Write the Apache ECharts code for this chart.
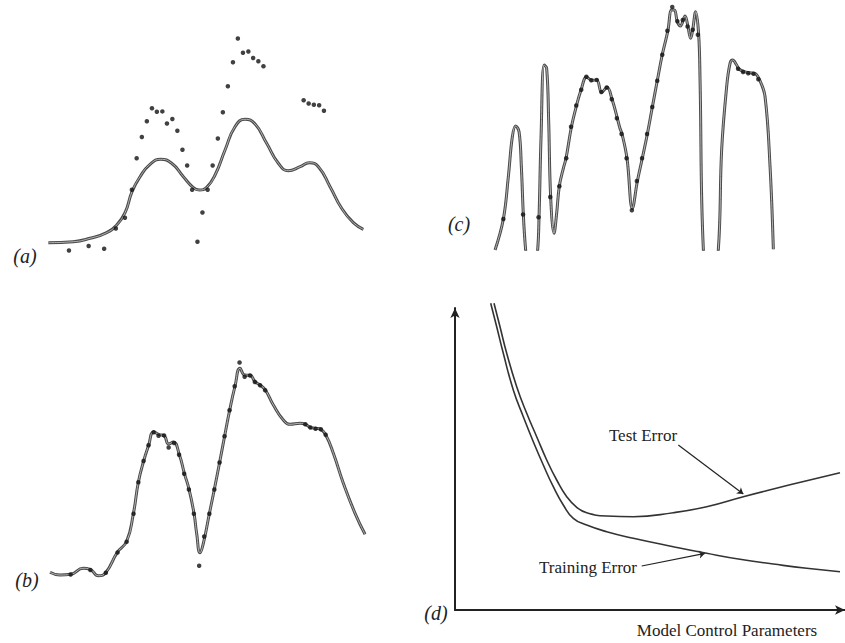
<!DOCTYPE html>
<html>
<head>
<meta charset="utf-8">
<script src="https://cdn.jsdelivr.net/npm/echarts@6/dist/echarts.min.js"></script>
<style>
html,body{margin:0;padding:0;background:#fff;}
#chart{width:845px;height:643px;}
</style>
</head>
<body>
<div id="chart"></div>
<script>
// Shared training data (same points in panels a, b, c)
const dotsX = [29.8,49.5,65,76.7,85.8,92.7,97.5,102.7,107.7,112.8,117.7,123.2,127.8,133.2,138.2,143.3,148,153,158.3,163.3,168.5,173.5,178.7,183.7,188.7,193.8,198.7,203.8,209.2,214,219.2,224.3,264.5,269.5,274.7,280,284.8];
const dotsY = [9.5,14,11.3,31.5,42.3,70.2,101.7,123,138.8,151.8,148.2,148.6,136.5,141,129.3,110.3,94.5,70.2,18.3,47.5,70.2,94.5,121.5,147.8,173.7,197.8,221.5,207.2,208.5,202,198.7,193.7,159.7,156.5,155.3,154.7,149.2];

// (a) under-fitting curve
const curveAX = [9.2,34.2,50.9,67.5,77.5,85.9,92.9,100.9,110.9,121.5,132.5,144.2,154.2,160.2,167.5,175.9,185.9,195.9,205.9,215.9,227.5,239.2,249.2,260.9,270.2,279.2,290.9,302.5,314.2,324.2];
const curveAY = [17.3,18.3,21.7,27.3,35,47.3,68.3,83.3,95.7,100.7,96.7,83.3,72.3,70,72.7,85,110,133.3,140.7,136,116.7,96.7,89.3,93.3,97.3,93.3,73.3,51.7,37.3,30.7];

// (b) good fit curve
const curveBX = [9.2,19.2,29.8,42.5,49.2,57.5,64.8,76.5,85.8,92.5,97.5,102.8,107.8,112.8,118.5,123.2,127.8,132.5,138.5,143.5,148.2,153.2,155.8,159.2,162.5,168.5,173.5,178.8,183.8,188.8,194.2,199.2,203.8,209.2,214.2,219.2,224.5,232.5,242.5,249.2,259.2,264.5,269.5,274.5,279.8,284.8,292.5,302.5,314.2,324.2];
const curveBY = [11.7,9,9.7,15.7,14.7,8.3,11.3,31.7,42.7,70.3,101.7,123,138.7,152,149.3,148.3,140,142,129.3,110.7,94.7,70.3,50.7,31.3,40.7,70.3,94.7,121.7,148,173.7,198,215.7,209,208.7,202.3,199,194,179,164,159.7,160.7,159.7,156.7,155.7,154.7,149.3,130.7,100.7,70.7,49.7];

// (c) over-fitting curve
const curveCX = [21.5,29.8,34.8,38.8,42.1,45.5,47.8,49.8,52.1,58,64.1,65.5,67.5,70.5,73.1,75.1,77.1,80.5,83.1,85.8,89.8,92.5,97.8,103.1,107.5,113.1,118.1,123.1,128.1,133.5,138.5,143.8,146.4,148.5,153.5,158.8,163.8,168.8,173.8,178.8,183.8,188.8,194.3,198.1,200.8,203.8,206.8,211.5,214.1,217.1,219.1,222.1,225.1,226.5,229.8,237,244.8,248.1,253.1,256.5,259.1,263.1,265.5,270.8,275.8,281.1,285.8,291.5,296.5,299.8];
const curveCY = [-21.5,9.5,51.8,91.8,102.5,96.8,61.8,13.5,-21.5,-80,-21.5,11.8,91.8,163.5,160.2,108.5,31.8,-4.8,15.2,42.5,60.2,70.2,101.2,123.5,138.5,151.5,148.2,148.5,136.2,141.2,129.2,110.2,100.2,94.5,69.8,20,47.2,70.5,94.5,121.5,148.2,174.2,197.6,218.5,218.5,206.8,202.5,212.5,203.5,190.2,198.5,216.8,194.2,148.5,-20.8,-80,-20.8,78.5,141.8,165.2,168.5,163.5,159.5,156.8,155.8,155.2,149.2,131.8,61.8,-20.8];

// (d) error curves
const testX = [39,45,51.7,61.7,71.7,81.7,91.7,101.7,111.7,121.7,131.7,151.7,178.3,218.3,251.7,288.3,318.3,351.7,385];
const testY = [306.7,283.3,256.7,223.3,196.7,173.3,150,130,113.3,102.7,97.3,94,93.3,97.3,103.3,113.3,121,129.3,137.3];
const trainX = [35.7,41.7,48.3,58.3,68.3,78.3,88.3,98.3,108.3,118.3,131.7,151.7,178.3,218.3,251.7,285,318.3,351.7,385];
const trainY = [306.7,283.3,256.7,220,193.3,168.3,145,123.3,105,91.7,85,78.3,71.7,63.3,56.7,50.7,46,41.7,38.3];

// annotation arrows (d panel data coordinates)
const testArrow = [[223.3,165],[288.3,116]];
const trainArrow = [[186.7,44],[250,56.7]];

const labels = ['(a)','(b)','(c)','(d)'];
const annotations = ['Test Error','Training Error','Model Control Parameters'];

function zip(xs, ys){ return xs.map((x,i)=>[x, ys[i]]); }

const chart = echarts.init(document.getElementById('chart'), null, {renderer:'svg'});

const outer = {color:'#4a4a4a', width:3};
const inner = {color:'#b4b4b4', width:1};
const dotStyle = {color:'#111'};

function curve(idx, xs, ys, smooth, clip){
  const base = {type:'line', xAxisIndex:idx, yAxisIndex:idx, data:zip(xs,ys), smooth:smooth, showSymbol:false, clip:clip, silent:true};
  return [Object.assign({}, base, {lineStyle:outer}), Object.assign({}, base, {lineStyle:inner})];
}
function dots(idx){
  return {type:'scatter', xAxisIndex:idx, yAxisIndex:idx, data:zip(dotsX,dotsY), symbolSize:4.5, itemStyle:dotStyle, z:5};
}

const option = {
  animation:false,
  backgroundColor:'#fff',
  grid:[
    {left:39.15, top:20, width:330, height:240},
    {left:40.85, top:344, width:330, height:240},
    {left:473.55, top:0, width:330, height:249.3},
    {left:455, top:308, width:390, height:302}
  ],
  xAxis:[
    {gridIndex:0, type:'value', min:0, max:330, show:false},
    {gridIndex:1, type:'value', min:0, max:330, show:false},
    {gridIndex:2, type:'value', min:0, max:330, show:false},
    {gridIndex:3, type:'value', min:0, max:390, splitLine:{show:false}, axisTick:{show:false}, axisLabel:{show:false},
      axisLine:{show:true, onZero:false, symbol:['none','arrow'], symbolSize:[7,10], lineStyle:{color:'#222', width:2}}}
  ],
  yAxis:[
    {gridIndex:0, type:'value', min:0, max:240, show:false},
    {gridIndex:1, type:'value', min:0, max:240, show:false},
    {gridIndex:2, type:'value', min:-20.8, max:228.5, show:false},
    {gridIndex:3, type:'value', min:0, max:302, splitLine:{show:false}, axisTick:{show:false}, axisLabel:{show:false},
      axisLine:{show:true, onZero:false, symbol:['none','arrow'], symbolSize:[7,10], lineStyle:{color:'#222', width:2}}}
  ],
  series:[].concat(
    curve(0, curveAX, curveAY, 0.5, true), [dots(0)],
    curve(1, curveBX, curveBY, 0.5, true), [dots(1)],
    curve(2, curveCX, curveCY, 0.4, true), [dots(2)],
    [
      {type:'line', xAxisIndex:3, yAxisIndex:3, data:zip(testX,testY), smooth:0.5, showSymbol:false, clip:false, lineStyle:{color:'#333', width:1.6}},
      {type:'line', xAxisIndex:3, yAxisIndex:3, data:zip(trainX,trainY), smooth:0.5, showSymbol:false, clip:false, lineStyle:{color:'#333', width:1.6}},
      {type:'lines', coordinateSystem:'cartesian2d', xAxisIndex:3, yAxisIndex:3, symbol:['none','arrow'], symbolSize:6,
        lineStyle:{color:'#222', width:1.2, opacity:1},
        data:[{coords:testArrow},{coords:trainArrow}]}
    ]
  ),
  graphic:[
    {type:'text', x:25, y:256, style:{text:labels[0], font:'italic 20px "Liberation Serif"', fill:'#222', align:'center', verticalAlign:'middle'}},
    {type:'text', x:27, y:580, style:{text:labels[1], font:'italic 20px "Liberation Serif"', fill:'#222', align:'center', verticalAlign:'middle'}},
    {type:'text', x:459, y:224, style:{text:labels[2], font:'italic 20px "Liberation Serif"', fill:'#222', align:'center', verticalAlign:'middle'}},
    {type:'text', x:436, y:613, style:{text:labels[3], font:'italic 20px "Liberation Serif"', fill:'#222', align:'center', verticalAlign:'middle'}},
    {type:'text', x:643, y:435, style:{text:annotations[0], font:'17px "Liberation Serif"', fill:'#222', align:'center', verticalAlign:'middle'}},
    {type:'text', x:588, y:567, style:{text:annotations[1], font:'17px "Liberation Serif"', fill:'#222', align:'center', verticalAlign:'middle'}},
    {type:'text', x:727, y:630, style:{text:annotations[2], font:'17px "Liberation Serif"', fill:'#222', align:'center', verticalAlign:'middle'}}
  ]
};
chart.setOption(option);
</script>
</body>
</html>
